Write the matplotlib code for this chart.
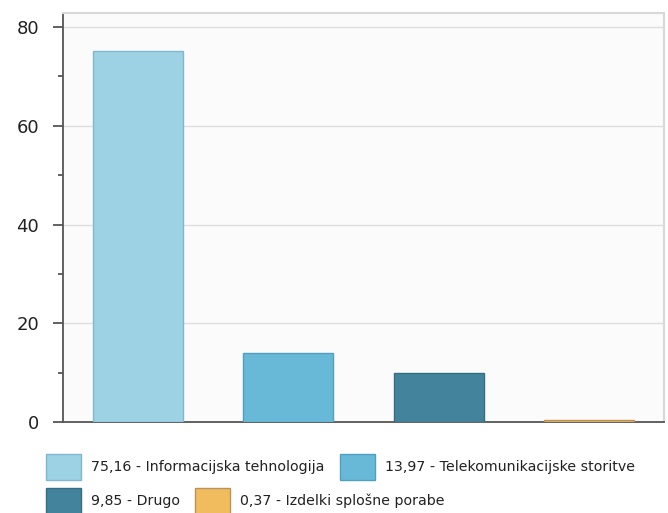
import numpy as np
import matplotlib
matplotlib.use("Agg")
import matplotlib.pyplot as plt
from matplotlib.patches import Rectangle

# data
values = [75.16, 13.97, 9.85, 0.37]
labels = ["Informacijska tehnologija", "Telekomunikacijske storitve",
          "Drugo", "Izdelki splošne porabe"]
colors = ["#9dd1e4", "#68b9d8", "#43849c", "#f0bc5e"]
edges = ["#7fb9cf", "#4f9fbf", "#356e84", "#b8935a"]
yticks = [0, 20, 40, 60, 80]

W, H = 668, 513
fig = plt.figure(figsize=(W / 100, H / 100), dpi=100)
fig.patch.set_facecolor("white")

# plot area in pixels (left, top, right, bottom)
L, T, R, B = 63, 13, 664, 422
ax = fig.add_axes([L / W, 1 - B / H, (R - L) / W, (B - T) / H])
ax.set_facecolor("#fbfbfb")

x = np.arange(len(values))
ax.bar(x, values, width=0.6, color=colors, edgecolor=edges, linewidth=1, zorder=3)

ax.set_xlim(-0.5, len(values) - 0.5)
ax.set_ylim(0, 82.85)
ax.set_yticks(yticks)
ax.set_yticks(np.arange(10, 81, 20), minor=True)
ax.set_xticks([])
ax.grid(axis="y", color="#dedede", linewidth=1, zorder=0)

for s in ["top", "right"]:
    ax.spines[s].set_color("#d8d8d8")
    ax.spines[s].set_linewidth(1.5)
for s in ["left", "bottom"]:
    ax.spines[s].set_color("#555555")
    ax.spines[s].set_linewidth(1.3)

ax.tick_params(axis="y", which="major", length=7.2, width=1.3, color="#555555",
               labelsize=13, labelcolor="#222222", pad=10)
ax.tick_params(axis="y", which="minor", length=3.5, width=1.3, color="#555555")

# legend laid out like the original (flowing rows)
legend_pos = [(46, 454), (340, 454), (46, 488), (195, 488)]
for i, (px, py) in enumerate(legend_pos):
    fig.patches.append(Rectangle((px / W, 1 - (py + 26) / H), 35 / W, 26 / H,
                                 transform=fig.transFigure, facecolor=colors[i],
                                 edgecolor=edges[i], linewidth=1))
    txt = f"{values[i]:.2f}".replace(".", ",") + " - " + labels[i]
    fig.text((px + 45) / W, 1 - (py + 13) / H, txt, fontsize=10.2,
             color="#222222", va="center", ha="left")

fig.savefig("out.png", dpi=100)
